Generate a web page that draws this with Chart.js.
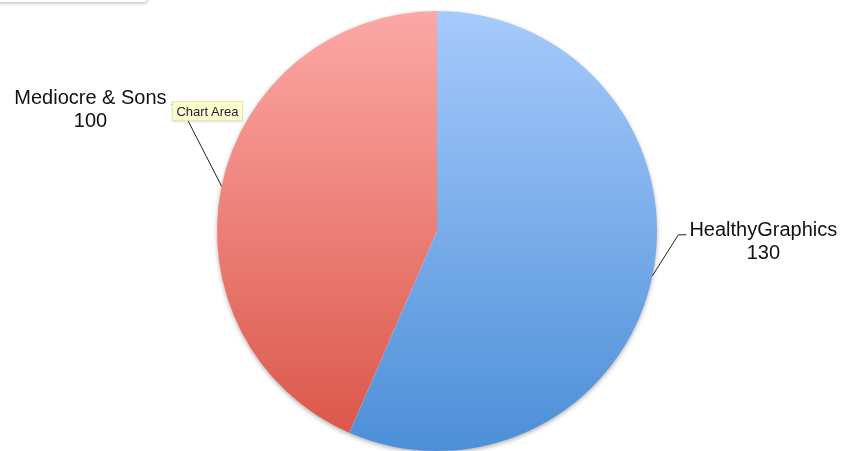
<!DOCTYPE html>
<html>
<head>
<meta charset="utf-8">
<script src="https://cdn.jsdelivr.net/npm/chart.js@4"></script>
<style>
    html, body { margin: 0; padding: 0; background: #fff; overflow: hidden; }
    #wrap { position: relative; width: 843px; height: 451px; }
    #topTab {
        position: absolute; left: -6px; top: -12px; width: 152px; height: 13px;
        background: #fff; border: 1px solid #d6d2da; border-radius: 0 0 4px 0;
        box-shadow: 0 1px 3px rgba(0,0,0,0.18);
    }
    #tip {
        position: absolute; left: 172px; top: 101px; width: 71px; height: 20px;
        background: #fdfdc9; border: 1px solid #e6e6b8; box-sizing: border-box;
        font: 13px "Liberation Sans", Arial, sans-serif; color: #1c1c44;
        line-height: 19px; text-align: center;
        box-shadow: 0 1px 2px rgba(0,0,0,0.12);
    }
</style>
</head>
<body>
<div id="wrap">
    <canvas id="pieChart" width="843" height="451"></canvas>
    <div id="topTab"></div>
    <div id="tip">Chart Area</div>
</div>
<script>
var labels = ["HealthyGraphics", "Mediocre & Sons"];
var values = [130, 100];

// top/bottom colours of each slice's vertical gradient
var topColors = ["#a6cafb", "#fca8a6"];
var bottomColors = ["#4c8fd8", "#da5446"];

function sliceFill(context) {
    var chart = context.chart;
    var area = chart.chartArea;
    if (!area) return topColors[context.dataIndex];
    var g = chart.ctx.createLinearGradient(0, area.top, 0, area.bottom);
    g.addColorStop(0, topColors[context.dataIndex]);
    g.addColorStop(1, bottomColors[context.dataIndex]);
    return g;
}

// soft drop shadow under the whole pie
var pieShadow = {
    id: "pieShadow",
    beforeDatasetsDraw: function(chart) {
        var arc = chart.getDatasetMeta(0).data[0];
        if (!arc) return;
        var ctx = chart.ctx;
        ctx.save();
        ctx.shadowColor = "rgba(0,0,0,0.35)";
        ctx.shadowBlur = 5;
        ctx.shadowOffsetY = 2;
        ctx.fillStyle = "#fff";
        ctx.beginPath();
        ctx.arc(arc.x, arc.y, arc.outerRadius - 0.5, 0, Math.PI * 2);
        ctx.fill();
        ctx.restore();
    }
};

// outside labels with elbow leader lines, anchored at each slice's mid angle
var outLabels = {
    id: "outLabels",
    afterDatasetsDraw: function(chart) {
        var ctx = chart.ctx;
        var meta = chart.getDatasetMeta(0);
        ctx.save();
        ctx.font = "20px 'Liberation Sans', Arial, sans-serif";
        ctx.fillStyle = "#111";
        ctx.strokeStyle = "#222";
        ctx.lineWidth = 1;
        ctx.textAlign = "center";
        meta.data.forEach(function(arc, i) {
            var mid = (arc.startAngle + arc.endAngle) / 2;
            var ex = arc.x + Math.cos(mid) * arc.outerRadius;
            var ey = arc.y + Math.sin(mid) * arc.outerRadius;
            var right = Math.cos(mid) >= 0;
            var dir = right ? 1 : -1;
            var kx = ex + dir * (right ? 26 : 42);
            var ky = ey - (right ? 41 : 82);
            var hx = kx + dir * 8;
            ctx.beginPath();
            ctx.moveTo(ex, ey);
            ctx.lineTo(kx, ky);
            ctx.lineTo(hx, ky);
            ctx.stroke();
            var w = ctx.measureText(labels[i]).width;
            var cx = right ? hx + 3 + w / 2 : hx - 5 - w / 2;
            var base = right ? ky + 1 : ky;
            ctx.fillText(labels[i], cx, base);
            ctx.fillText(String(values[i]), cx, base + 23);
        });
        ctx.restore();
    }
};

var ctx = document.getElementById("pieChart");
var chart = new Chart(ctx, {
    type: "pie",
    data: {
        labels: labels,
        datasets: [{
            data: values,
            backgroundColor: sliceFill,
            borderWidth: 0
        }]
    },
    options: {
        responsive: false,
        animation: false,
        layout: { padding: { left: 217, right: 186, top: 11, bottom: 0 } },
        plugins: {
            legend: { display: false },
            tooltip: { enabled: false }
        }
    },
    plugins: [pieShadow, outLabels]
});
</script>
</body>
</html>
